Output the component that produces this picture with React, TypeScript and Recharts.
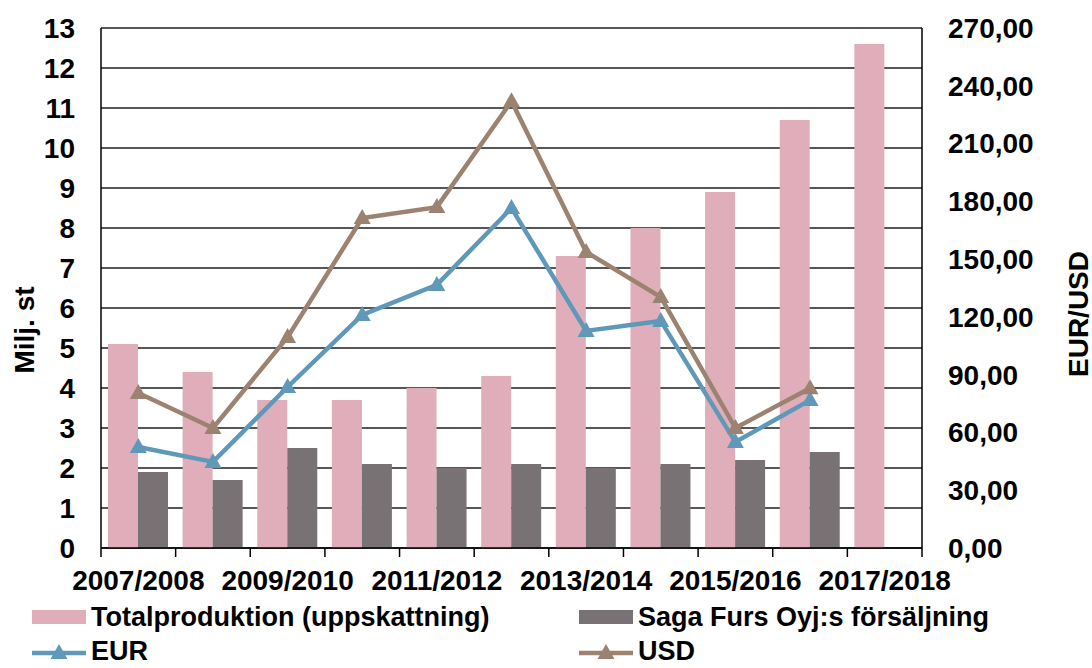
import React from 'react';
import { ComposedChart, Bar, Line, XAxis, YAxis, CartesianGrid } from 'recharts';

const categories = ['2007/2008', '2008/2009', '2009/2010', '2010/2011', '2011/2012', '2012/2013', '2013/2014', '2014/2015', '2015/2016', '2016/2017', '2017/2018'];
const totalProduktion = [5.1, 4.4, 3.7, 3.7, 4.0, 4.3, 7.3, 8.0, 8.9, 10.7, 12.6];
const sagaFurs = [1.9, 1.7, 2.5, 2.1, 2.0, 2.1, 2.0, 2.1, 2.2, 2.4, null];
const eur = [52.4, 44.7, 83.6, 121, 136.6, 176.5, 112.7, 117.9, 55, 76.8, null];
const usd = [80.5, 62.3, 109.5, 171.3, 177, 232, 153.7, 130.3, 62.3, 83, null];
const leftTicks = [0, 1, 2, 3, 4, 5, 6, 7, 8, 9, 10, 11, 12, 13];
const rightTicks = [0, 30, 60, 90, 120, 150, 180, 210, 240, 270];

const seriesNames = {
  total: 'Totalproduktion (uppskattning)',
  saga: 'Saga Furs Oyj:s försäljning',
  eur: 'EUR',
  usd: 'USD',
};
const leftTitle = 'Milj. st';
const rightTitle = 'EUR/USD';

const COLORS = {
  total: '#E0AEBA',
  saga: '#797274',
  eur: '#5F98B8',
  usd: '#9C8270',
};

const data = categories.map((c, i) => ({
  cat: c,
  total: totalProduktion[i],
  saga: sagaFurs[i],
  eur: eur[i],
  usd: usd[i],
}));

const W = 1092;
const H = 600;
const LEFT_W = 101;
const RIGHT_W = 170;
const PLOT_W = W - LEFT_W - RIGHT_W;
const FONT = '"Liberation Sans", Arial, sans-serif';
const FS = 28;

const Triangle = (color: string) => (props: any) => {
  const { cx, cy, index } = props;
  if (cx == null || cy == null || Number.isNaN(cy)) return <g key={index} />;
  return (
    <path
      key={index}
      d={`M${cx},${cy - 9} L${cx - 8.5},${cy + 6} L${cx + 8.5},${cy + 6} Z`}
      fill={color}
      stroke="none"
    />
  );
};

const XTick = (props: any) => {
  const { x, y, index, payload } = props;
  const bw = PLOT_W / categories.length;
  return (
    <g>
      <line x1={x - bw / 2} x2={x - bw / 2} y1={y} y2={y + 9} stroke="#000" strokeWidth={1.5} />
      {index === categories.length - 1 && (
        <line x1={x + bw / 2} x2={x + bw / 2} y1={y} y2={y + 9} stroke="#000" strokeWidth={1.5} />
      )}
      {index % 2 === 0 && (
        <text x={x} y={y + 42} textAnchor="middle" fontFamily={FONT} fontWeight="bold" fontSize={FS} fill="#000">
          {payload.value}
        </text>
      )}
    </g>
  );
};

const LegendItem = ({ kind, color, label, left, top }: any) => (
  <div style={{ position: 'absolute', left, top, display: 'flex', alignItems: 'center', height: 30 }}>
    <svg width={59} height={30} style={{ display: 'block' }}>
      {kind === 'bar' ? (
        <rect x={0} y={8} width={54} height={14} fill={color} />
      ) : (
        <g>
          <line x1={0} x2={54} y1={17} y2={17} stroke={color} strokeWidth={4.5} />
          <path d={`M27,8 L18.5,23 L35.5,23 Z`} fill={color} />
        </g>
      )}
    </svg>
    <span style={{ fontFamily: FONT, fontWeight: 'bold', fontSize: 27, color: '#000', whiteSpace: 'nowrap', lineHeight: '30px' }}>{label}</span>
  </div>
);

export default function App() {
  return (
    <div style={{ position: 'absolute', left: 0, top: 0, width: W, height: 668, background: '#fff' }}>
      <ComposedChart width={W} height={H} data={data} margin={{ top: 28, right: 0, bottom: 0, left: 0 }} barGap={0}>
        <CartesianGrid yAxisId="left" horizontal vertical={false} stroke="#1e1e1e" strokeWidth={1.5} />
        <XAxis
          dataKey="cat"
          interval={0}
          height={52}
          tickLine={false}
          tickSize={0}
          tickMargin={0}
          tick={<XTick />}
          axisLine={{ stroke: '#000', strokeWidth: 1.5 }}
        />
        <YAxis
          yAxisId="left"
          width={LEFT_W}
          domain={[0, 13]}
          ticks={leftTicks}
          interval={0}
          tickLine={false}
          tickSize={0}
          tickMargin={26}
          axisLine={{ stroke: '#000', strokeWidth: 1.5 }}
          tick={{ fontFamily: FONT, fontWeight: 'bold', fontSize: FS, fill: '#000' }}
        />
        <YAxis
          yAxisId="right"
          orientation="right"
          width={RIGHT_W}
          domain={[0, 270]}
          ticks={rightTicks}
          interval={0}
          tickLine={false}
          tickSize={0}
          tickMargin={26}
          tickFormatter={(v: number) => v.toFixed(2).replace('.', ',')}
          axisLine={{ stroke: '#000', strokeWidth: 1.5 }}
          tick={{ fontFamily: FONT, fontWeight: 'bold', fontSize: FS, fill: '#000' }}
        />
        <Bar yAxisId="left" dataKey="total" name={seriesNames.total} fill={COLORS.total} barSize={30} isAnimationActive={false} />
        <Bar yAxisId="left" dataKey="saga" name={seriesNames.saga} fill={COLORS.saga} barSize={30} isAnimationActive={false} />
        <Line yAxisId="right" type="linear" dataKey="eur" name={seriesNames.eur} stroke={COLORS.eur} strokeWidth={4.5} dot={Triangle(COLORS.eur)} activeDot={false} isAnimationActive={false} />
        <Line yAxisId="right" type="linear" dataKey="usd" name={seriesNames.usd} stroke={COLORS.usd} strokeWidth={4.5} dot={Triangle(COLORS.usd)} activeDot={false} isAnimationActive={false} />
      </ComposedChart>
      <svg width={W} height={H} style={{ position: 'absolute', left: 0, top: 0, pointerEvents: 'none' }}>
        <text transform="translate(24,330) rotate(-90)" textAnchor="middle" dominantBaseline="central" fontFamily={FONT} fontWeight="bold" fontSize={FS} fill="#000">
          {leftTitle}
        </text>
        <text transform="translate(1078,314) rotate(-90)" textAnchor="middle" dominantBaseline="central" fontFamily={FONT} fontWeight="bold" fontSize={FS} fill="#000">
          {rightTitle}
        </text>
      </svg>
      <LegendItem kind="bar" color={COLORS.total} label={seriesNames.total} left={32} top={602} />
      <LegendItem kind="bar" color={COLORS.saga} label={seriesNames.saga} left={579} top={602} />
      <LegendItem kind="line" color={COLORS.eur} label={seriesNames.eur} left={32} top={636} />
      <LegendItem kind="line" color={COLORS.usd} label={seriesNames.usd} left={579} top={636} />
    </div>
  );
}
